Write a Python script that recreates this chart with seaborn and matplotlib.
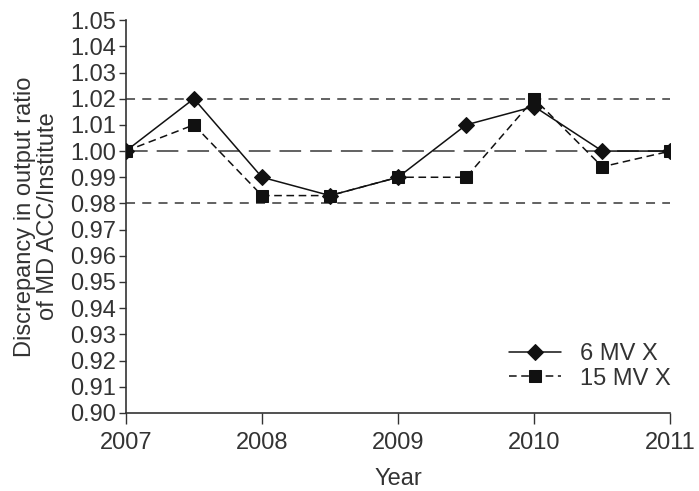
import pandas as pd
import seaborn as sns
import matplotlib.pyplot as plt

# Half-yearly measurements
years = [2007, 2007.5, 2008, 2008.5, 2009, 2009.5, 2010, 2010.5, 2011]
mv6 = [1.000, 1.020, 0.990, 0.983, 0.990, 1.010, 1.017, 1.000, 1.000]
mv15 = [1.000, 1.010, 0.983, 0.983, 0.990, 0.990, 1.020, 0.994, 1.000]
series_names = ["6 MV X", "15 MV X"]
ref_levels = [1.02, 1.00, 0.98]
x_ticks = [2007, 2008, 2009, 2010, 2011]
y_ticks = [round(0.90 + 0.01 * i, 2) for i in range(16)]

df = pd.DataFrame({
    "Year": years * 2,
    "Ratio": mv6 + mv15,
    "Beam": [series_names[0]] * len(years) + [series_names[1]] * len(years),
})

sns.set_style("white")
plt.rcParams['font.family'] = ['Liberation Sans', 'DejaVu Sans']
plt.rcParams['font.size'] = 17

fig = plt.figure(figsize=(6.99, 4.91), dpi=100)
ax = fig.add_axes([0.180, 0.159, 0.779, 0.800])

# Reference lines
ax.axhline(ref_levels[0], color="#555555", lw=1.3, dashes=(5, 4), zorder=1)
ax.axhline(ref_levels[1], color="#555555", lw=1.3, dashes=(12, 5), zorder=1)
ax.axhline(ref_levels[2], color="#555555", lw=1.3, dashes=(5, 4), zorder=1)

sns.lineplot(data=df, x="Year", y="Ratio", hue="Beam", style="Beam",
             palette=["#111111", "#111111"], markers={"6 MV X": "D", "15 MV X": "s"},
             dashes={"6 MV X": "", "15 MV X": (5, 3)}, markersize=8,
             markeredgecolor="#111111", linewidth=1.1, ax=ax, zorder=3)

ax.set_xlim(2007, 2011)
ax.set_ylim(0.90, 1.05)
ax.set_xticks(x_ticks)
ax.set_yticks(y_ticks)
ax.set_yticklabels([f"{v:.2f}" for v in y_ticks])
ax.set_xlabel("Year", color="#333333", labelpad=10)
ax.set_ylabel("Discrepancy in output ratio\nof MD ACC/Institute", color="#333333",
              labelpad=8, linespacing=1.05)
ax.tick_params(axis="y", direction="out", length=5, width=1, colors="#333333", left=True, pad=2)
ax.tick_params(axis="x", direction="out", length=8, width=1, colors="#333333", bottom=True, pad=6)
for s in ["top", "right"]:
    ax.spines[s].set_visible(False)
for s in ["left", "bottom"]:
    ax.spines[s].set_color("#333333")
    ax.spines[s].set_linewidth(1.2)

leg = ax.legend(title=None, frameon=False, loc="lower right",
                bbox_to_anchor=(1.04, 0.005), handlelength=2.2, labelspacing=0.1,
                handletextpad=0.8)
for t in leg.get_texts():
    t.set_color("#333333")

fig.savefig("out.png", dpi=100)
